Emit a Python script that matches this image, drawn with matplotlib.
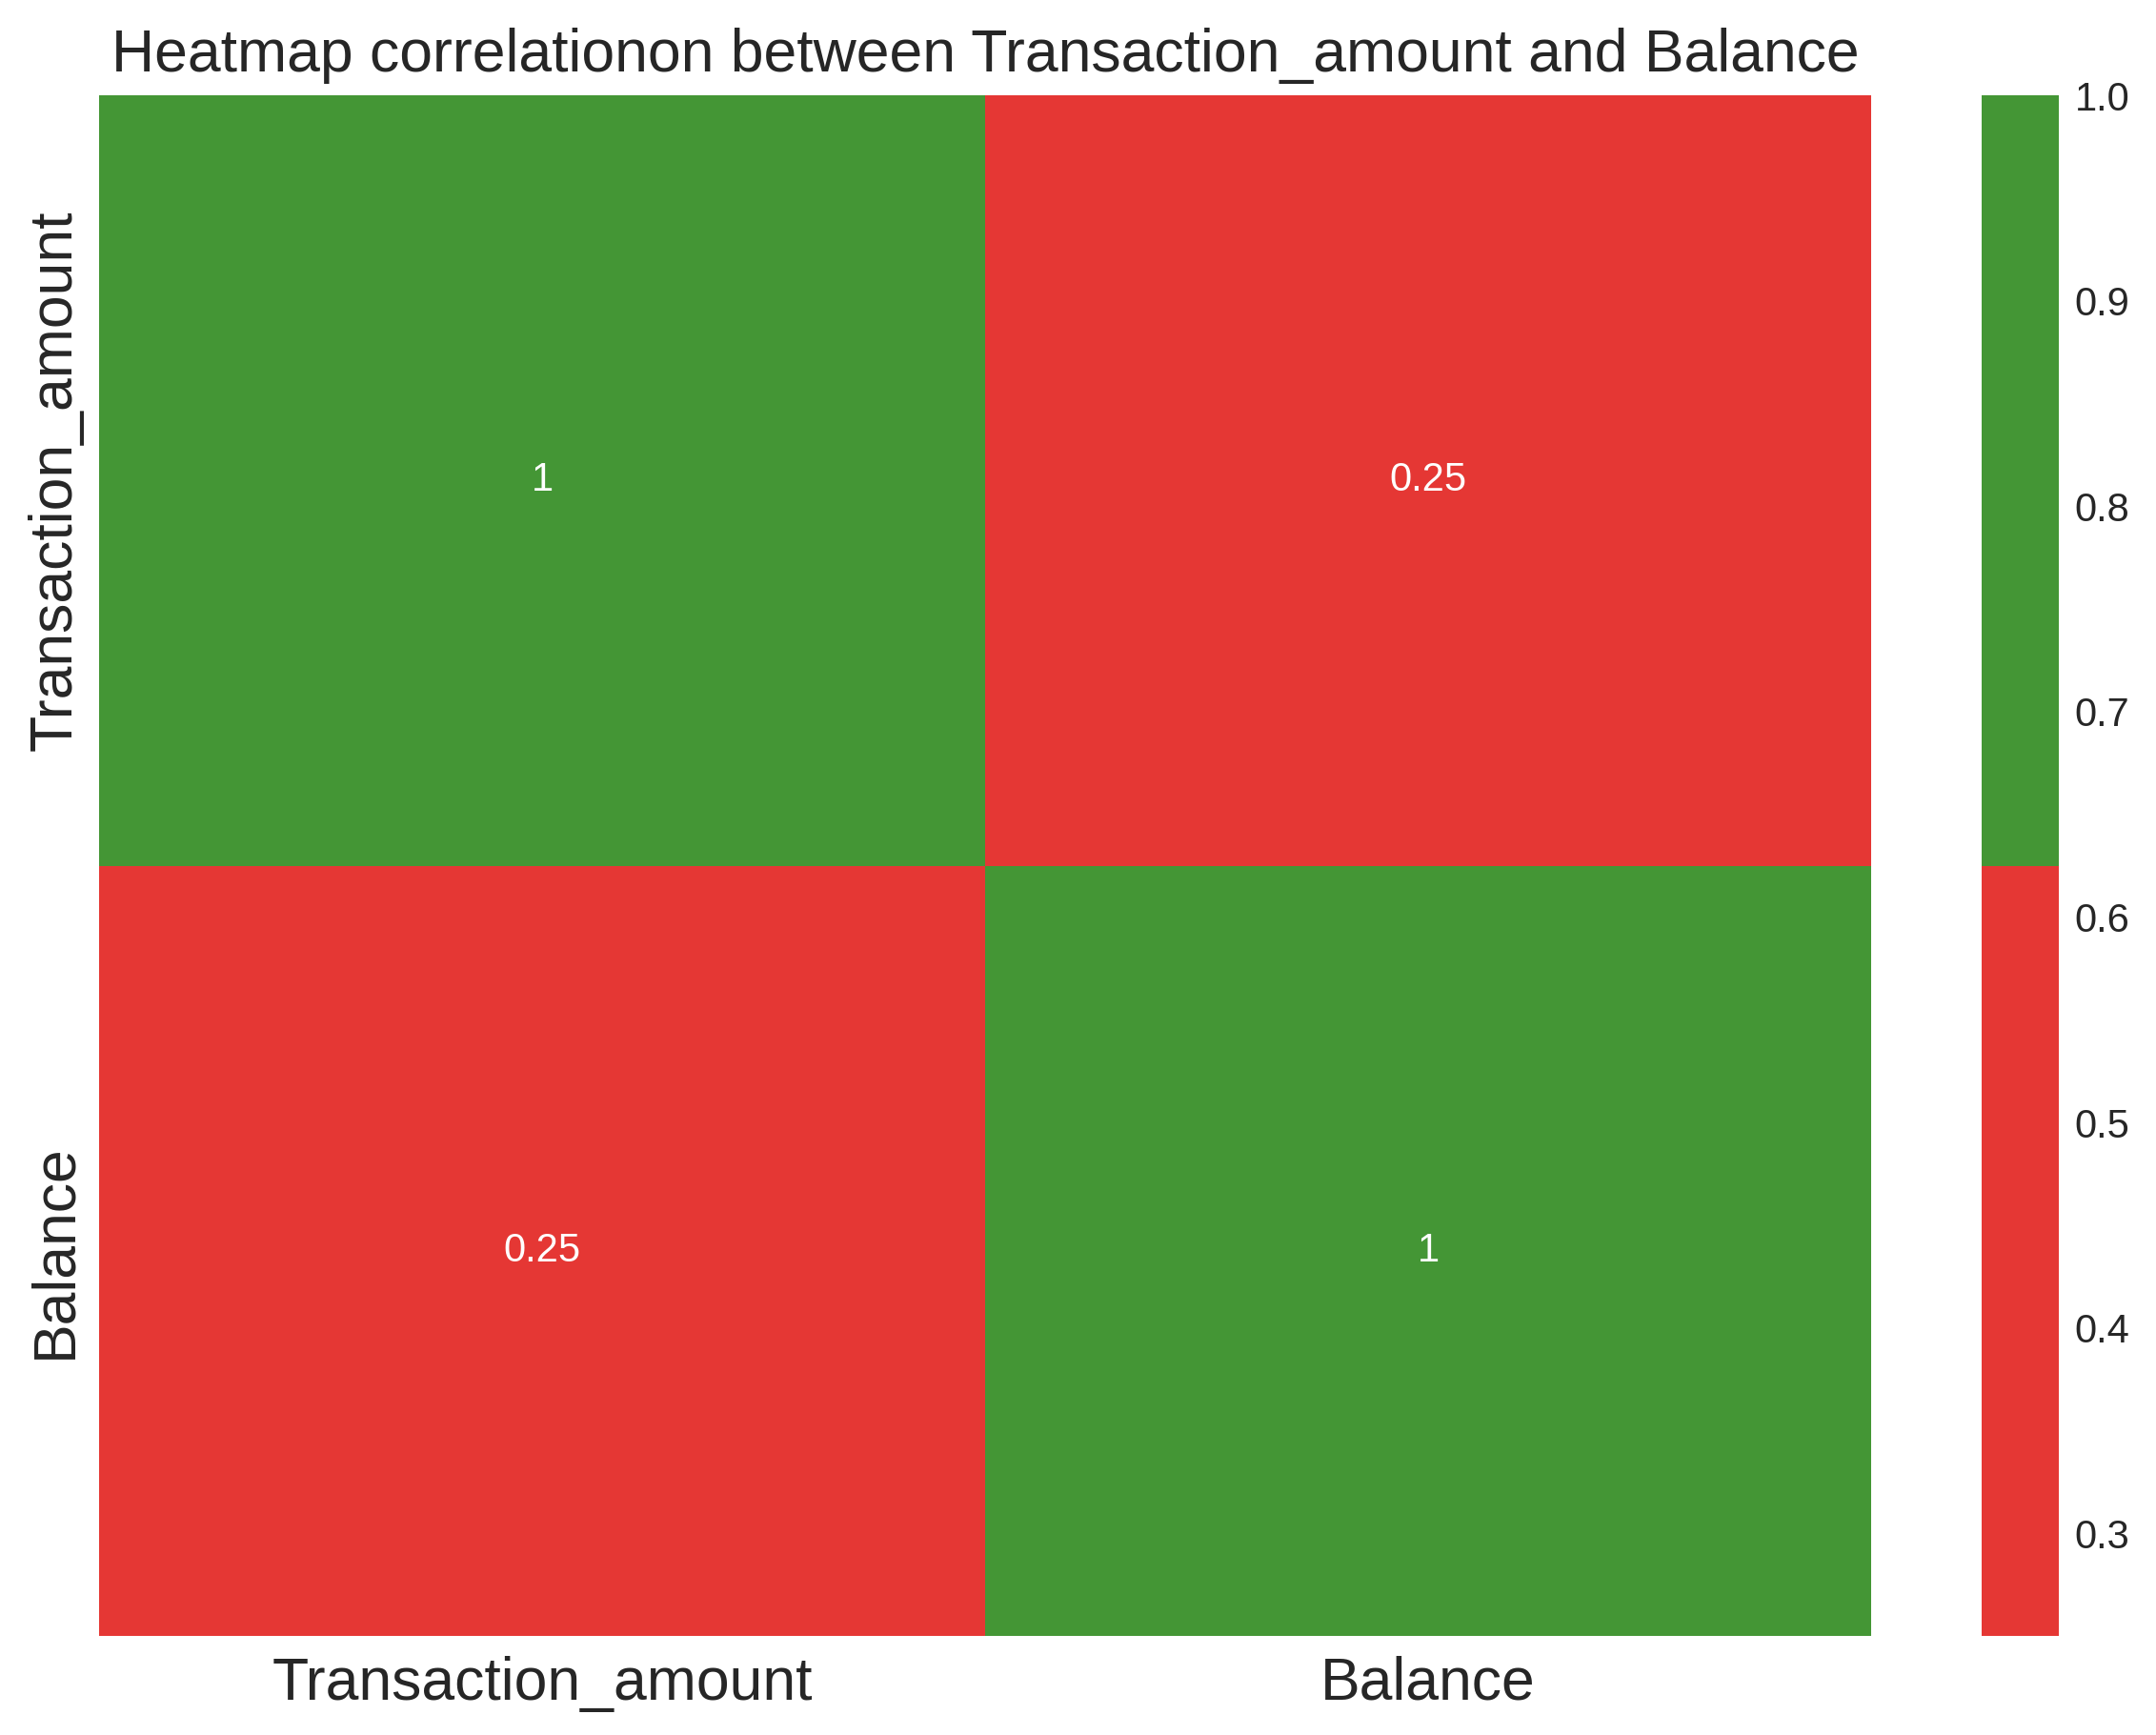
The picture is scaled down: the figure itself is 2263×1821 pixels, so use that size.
import numpy as np
import matplotlib
matplotlib.use('Agg')
import matplotlib.pyplot as plt
import seaborn as sns
from matplotlib.colors import ListedColormap

# correlation values
labels = ['Transaction_amount', 'Balance']
corr = [[1.0, 0.25],
        [0.25, 1.0]]

sns.set_style('white')
plt.rcParams['font.family'] = ['Liberation Sans', 'DejaVu Sans']
plt.rcParams['text.color'] = '#262626'
plt.rcParams['xtick.color'] = '#262626'
plt.rcParams['ytick.color'] = '#262626'

W, H, dpi = 2263, 1821, 300
fig = plt.figure(figsize=(W / dpi, H / dpi), dpi=dpi)
ax = fig.add_axes([104 / W, 1 - 1717 / H, (1964 - 104) / W, (1717 - 100) / H])
cax = fig.add_axes([2080 / W, 1 - 1717 / H, 81 / W, (1717 - 100) / H])

cmap = ListedColormap(['#e53734', '#449635'])
sns.heatmap(np.array(corr), annot=True, cmap=cmap, ax=ax, cbar_ax=cax,
            xticklabels=labels, yticklabels=labels,
            annot_kws={'fontsize': 10, 'color': 'white'})

ax.set_title('Heatmap correlationon between Transaction_amount and Balance', fontsize=15, pad=6)
ax.tick_params(axis='x', labelsize=15, length=0, pad=5)
ax.tick_params(axis='y', labelsize=15, length=0, pad=4)
cax.tick_params(labelsize=10, length=0, pad=4)
cax.set_yticks([0.3, 0.4, 0.5, 0.6, 0.7, 0.8, 0.9, 1.0])

fig.savefig('out.png', dpi=dpi)
